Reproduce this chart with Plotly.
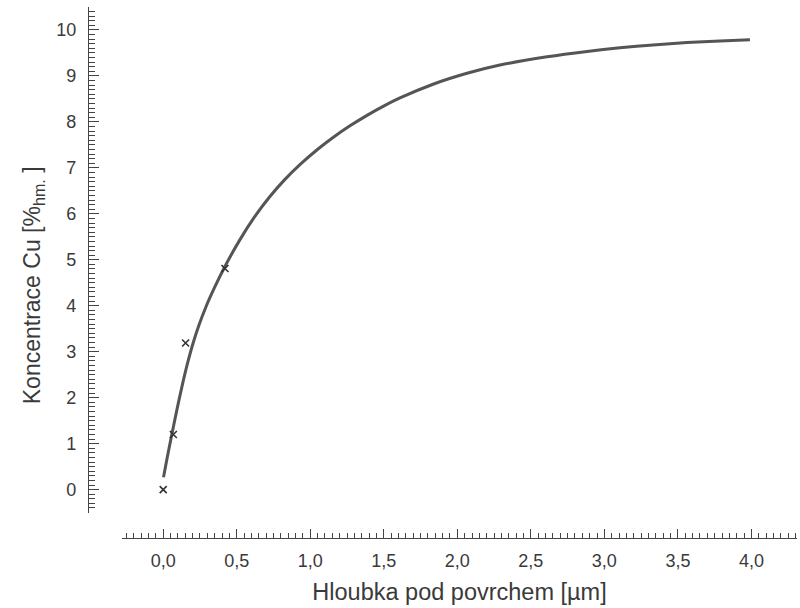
import plotly.graph_objects as go

# Measured points (crosses)
meas_x = [0.0, 0.069, 0.152, 0.42]
meas_y = [0.0, 1.2, 3.19, 4.81]

# Fitted curve
fit_x = [0.002, 0.029, 0.058, 0.094, 0.129, 0.166, 0.203, 0.241, 0.289, 0.347,
         0.418, 0.517, 0.621, 0.723, 0.828, 0.937, 1.053, 1.155, 1.270, 1.386,
         1.502, 1.610, 1.835, 2.066, 2.290, 2.610, 2.882, 3.106, 3.331, 3.562,
         3.786, 3.990]
fit_y = [0.270, 0.724, 1.190, 1.752, 2.263, 2.755, 3.184, 3.560, 3.963, 4.381,
         4.843, 5.412, 5.932, 6.366, 6.749, 7.092, 7.411, 7.661, 7.914, 8.143,
         8.348, 8.521, 8.820, 9.058, 9.237, 9.416, 9.533, 9.611, 9.674, 9.725,
         9.762, 9.786]

x_ticks = [0.0, 0.5, 1.0, 1.5, 2.0, 2.5, 3.0, 3.5, 4.0]
y_ticks = list(range(0, 11))

font_family = "Liberation Sans, Arial, sans-serif"
txt = "#3a3a3a"
axc = "#444444"

fig = go.Figure()
fig.add_trace(go.Scatter(
    x=fit_x, y=fit_y, mode="lines",
    line=dict(color="#555555", width=3, shape="spline", smoothing=0.6),
    showlegend=False, hoverinfo="skip"))
fig.add_trace(go.Scatter(
    x=meas_x, y=meas_y, mode="markers",
    marker=dict(symbol="x-thin", size=7, line=dict(color="#333333", width=1.6)),
    showlegend=False))

fig.update_layout(
    width=800, height=608,
    margin=dict(l=88, r=3, t=7, b=70),
    paper_bgcolor="white", plot_bgcolor="white",
    separators=", ",
    font=dict(family=font_family, size=18, color=txt),
    xaxis=dict(
        anchor="free", position=0, domain=[0.048, 1],
        range=[-0.28, 4.31],
        tickmode="array", tickvals=x_ticks, tickformat=".1f",
        ticks="inside", ticklen=9, tickwidth=1.3, tickcolor=axc,
        minor=dict(dtick=0.05, tick0=0, ticks="inside", ticklen=5, tickwidth=1, tickcolor=axc),
        showline=True, linecolor=axc, linewidth=1.3,
        showgrid=False, zeroline=False,
        tickfont=dict(size=18, color=txt),
        ticklabelstandoff=6,
        title=dict(text="Hloubka pod povrchem [µm]", font=dict(size=23.5, color=txt), standoff=13),
    ),
    yaxis=dict(
        anchor="free", position=0, domain=[0.047, 1],
        range=[-0.51, 10.5],
        tickmode="array", tickvals=y_ticks,
        ticks="inside", ticklen=10, tickwidth=1.3, tickcolor=axc,
        minor=dict(dtick=0.1, tick0=0, ticks="inside", ticklen=6, tickwidth=1, tickcolor=axc),
        showline=True, linecolor=axc, linewidth=1.3,
        showgrid=False, zeroline=False,
        tickfont=dict(size=18, color=txt),
        ticklabelstandoff=8,
    ),
    annotations=[dict(
        text="Koncentrace Cu [%<sub>hm.</sub> ]",
        xref="paper", yref="paper",
        x=-0.0776, y=0.476, xanchor="center", yanchor="middle",
        textangle=-90, showarrow=False,
        font=dict(size=23, color=txt, family=font_family),
    )],
)

fig.write_html("out.html")
